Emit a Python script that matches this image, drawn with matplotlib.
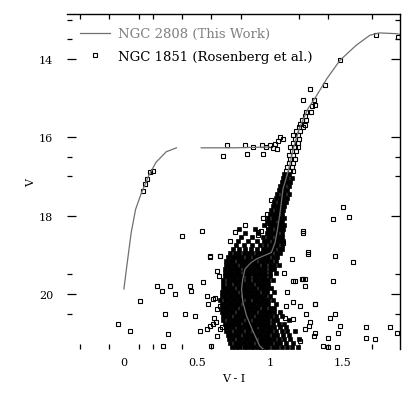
import matplotlib.pyplot as plt
from matplotlib.lines import Line2D

# fiducial lines, NGC 2808 (V-I, V)
fid_rgb_vi = [0.96, 0.93, 0.885, 0.84, 0.815, 0.806, 0.815, 0.83, 0.87, 0.91, 0.96, 1.01, 1.035,
              1.05, 1.07, 1.09, 1.13, 1.16, 1.20, 1.26, 1.32, 1.39, 1.48, 1.59, 1.685, 1.75, 1.87, 1.895]
fid_rgb_v = [21.42, 21.32, 20.95, 20.55, 20.2, 19.87, 19.6, 19.36, 19.2, 19.1, 19.02, 18.94, 18.7,
             18.4, 17.92, 17.32, 16.81, 16.30, 15.79, 15.28, 14.94, 14.51, 14.04, 13.66, 13.40, 13.34, 13.36, 13.38]
fid_bhb_vi = [0.0, 0.02, 0.05, 0.08, 0.12, 0.17, 0.22, 0.29, 0.36]
fid_bhb_v = [19.87, 19.28, 18.43, 17.84, 17.42, 16.98, 16.64, 16.37, 16.27]
fid_rhb_vi = [0.53, 0.75, 1.0]
fid_rhb_v = [16.27, 16.27, 16.25]

# NGC 1851 stars, crowded part given row by row (V of the row, V-I of the stars)
rows_v = [21.35, 21.25, 21.15, 21.05, 20.95, 20.85, 20.75, 20.65, 20.55, 20.45, 20.35, 20.25,
          20.15, 20.05, 19.95, 19.85, 19.75, 19.65, 19.55, 19.45, 19.35, 19.25, 19.15, 19.05,
          18.95, 18.85, 18.75, 18.65, 18.55, 18.45, 18.35, 18.25, 18.15, 18.05, 17.95, 17.85,
          17.75, 17.65, 17.55, 17.45, 17.35, 17.25, 17.15, 17.05, 16.95, 16.85, 16.75, 16.65,
          16.55, 16.45, 16.35, 16.25, 16.15, 16.05, 15.95, 15.85, 15.75, 15.65, 15.55, 15.45,
          15.35, 15.2, 15.05]
rows_vi = [
    [0.74, 0.77, 0.79, 0.82, 0.84, 0.87, 0.89, 0.92, 0.94, 0.97, 0.99, 1.02, 1.05, 1.08, 1.12, 1.15, 1.19],
    [0.73, 0.76, 0.78, 0.81, 0.83, 0.86, 0.88, 0.91, 0.93, 0.96, 0.98, 1.01, 1.04, 1.07, 1.11, 1.16],
    [0.72, 0.75, 0.78, 0.80, 0.83, 0.85, 0.88, 0.90, 0.93, 0.95, 0.98, 1.00, 1.03, 1.06, 1.10, 1.14, 1.20],
    [0.71, 0.74, 0.77, 0.79, 0.82, 0.84, 0.87, 0.89, 0.92, 0.94, 0.97, 0.99, 1.02, 1.05, 1.09, 1.13],
    [0.70, 0.73, 0.76, 0.79, 0.81, 0.84, 0.86, 0.89, 0.91, 0.94, 0.96, 0.99, 1.01, 1.04, 1.08, 1.12, 1.17],
    [0.70, 0.72, 0.75, 0.78, 0.80, 0.83, 0.85, 0.88, 0.90, 0.93, 0.95, 0.98, 1.00, 1.03, 1.07, 1.11],
    [0.69, 0.72, 0.74, 0.77, 0.79, 0.82, 0.84, 0.87, 0.89, 0.92, 0.94, 0.97, 0.99, 1.02, 1.06, 1.10],
    [0.68, 0.71, 0.74, 0.76, 0.79, 0.81, 0.84, 0.86, 0.89, 0.91, 0.94, 0.96, 0.99, 1.02, 1.05, 1.13],
    [0.68, 0.70, 0.73, 0.76, 0.78, 0.81, 0.83, 0.86, 0.88, 0.91, 0.93, 0.96, 0.98, 1.01, 1.04, 1.08],
    [0.67, 0.70, 0.73, 0.75, 0.78, 0.80, 0.83, 0.85, 0.88, 0.90, 0.93, 0.95, 0.98, 1.00, 1.03, 1.07],
    [0.67, 0.70, 0.72, 0.75, 0.77, 0.80, 0.82, 0.85, 0.87, 0.90, 0.92, 0.95, 0.97, 1.00, 1.03],
    [0.67, 0.69, 0.72, 0.74, 0.77, 0.79, 0.82, 0.84, 0.87, 0.89, 0.92, 0.94, 0.97, 0.99, 1.04],
    [0.66, 0.69, 0.71, 0.74, 0.76, 0.79, 0.81, 0.84, 0.86, 0.89, 0.91, 0.94, 0.96, 0.99, 1.02],
    [0.67, 0.69, 0.72, 0.74, 0.77, 0.79, 0.82, 0.84, 0.87, 0.89, 0.92, 0.94, 0.97, 1.00],
    [0.67, 0.70, 0.72, 0.75, 0.77, 0.80, 0.82, 0.85, 0.87, 0.90, 0.92, 0.95, 0.98, 1.03],
    [0.68, 0.70, 0.73, 0.75, 0.78, 0.80, 0.83, 0.85, 0.88, 0.90, 0.93, 0.95, 0.98, 1.01],
    [0.68, 0.71, 0.73, 0.76, 0.78, 0.81, 0.83, 0.86, 0.88, 0.91, 0.93, 0.96, 0.99],
    [0.68, 0.71, 0.74, 0.76, 0.79, 0.81, 0.84, 0.86, 0.89, 0.91, 0.94, 0.96, 0.99, 1.02],
    [0.69, 0.71, 0.74, 0.76, 0.79, 0.81, 0.84, 0.86, 0.89, 0.91, 0.94, 0.97, 1.00],
    [0.69, 0.72, 0.74, 0.77, 0.79, 0.82, 0.84, 0.87, 0.89, 0.92, 0.94, 0.97, 1.00, 1.04],
    [0.69, 0.72, 0.74, 0.77, 0.79, 0.82, 0.84, 0.87, 0.89, 0.92, 0.94, 0.97, 1.00, 1.03],
    [0.70, 0.72, 0.75, 0.77, 0.80, 0.82, 0.85, 0.87, 0.90, 0.92, 0.95, 0.97, 1.00, 1.03, 1.06],
    [0.70, 0.73, 0.75, 0.78, 0.80, 0.83, 0.85, 0.88, 0.90, 0.93, 0.95, 0.98, 1.01, 1.04],
    [0.71, 0.74, 0.76, 0.79, 0.81, 0.84, 0.86, 0.89, 0.91, 0.94, 0.96, 0.99, 1.02, 1.05],
    [0.73, 0.76, 0.79, 0.82, 0.85, 0.88, 0.91, 0.93, 0.96, 0.98, 1.01, 1.04, 1.07],
    [0.75, 0.79, 0.83, 0.87, 0.91, 0.95, 0.98, 1.01, 1.03, 1.06, 1.08],
    [0.77, 0.82, 0.88, 0.93, 0.97, 1.00, 1.03, 1.05, 1.08],
    [0.78, 0.85, 0.91, 0.96, 0.99, 1.02, 1.04, 1.07, 1.09],
    [0.80, 0.88, 0.95, 0.99, 1.01, 1.04, 1.06, 1.08],
    [0.83, 0.92, 0.98, 1.00, 1.03, 1.05, 1.08],
    [0.79, 0.90, 0.99, 1.01, 1.04, 1.06, 1.09],
    [0.96, 1.00, 1.02, 1.05, 1.07, 1.10],
    [0.98, 1.01, 1.03, 1.06, 1.08],
    [0.99, 1.02, 1.04, 1.07, 1.10],
    [1.00, 1.03, 1.05, 1.08],
    [1.01, 1.04, 1.06, 1.09],
    [1.02, 1.05, 1.07, 1.10],
    [1.03, 1.06, 1.08, 1.11],
    [1.04, 1.07, 1.09, 1.12],
    [1.05, 1.08, 1.10, 1.13],
    [1.06, 1.09, 1.12],
    [1.07, 1.10, 1.13],
    [1.08, 1.11, 1.14],
    [1.09, 1.12, 1.15],
    [1.10, 1.13],
    [1.11, 1.14, 1.16],
    [1.12, 1.15],
    [1.13, 1.16],
    [1.14, 1.17],
    [1.13, 1.16],
    [1.15, 1.18],
    [1.14, 1.17, 1.19],
    [1.16, 1.19],
    [1.17, 1.20],
    [1.16, 1.19],
    [1.18, 1.21],
    [1.20, 1.23],
    [1.21],
    [1.22, 1.25],
    [1.24],
    [1.25, 1.28],
    [1.29],
    [1.30],
]

# horizontal branch stars of NGC 1851
hb_vi = [0.20, 0.18, 0.155, 0.144, 0.13, 0.703, 0.68, 0.829, 0.84, 0.943, 0.954, 0.886, 0.977,
         1.0, 1.023, 1.034, 1.057, 1.068, 1.091, 1.046]
hb_v = [16.85, 16.89, 17.06, 17.19, 17.36, 16.21, 16.47, 16.21, 16.43, 16.21, 16.43, 16.26, 16.26,
        16.21, 16.27, 16.17, 16.09, 16.0, 16.04, 16.30]

# scattered stars
field_vi = [1.274, 1.228, 1.308, 1.377, 1.73, 1.879, 1.479, 1.24, 1.502, 1.434, 1.543, 1.228,
            0.395, 0.532, 0.589, 0.658, 1.263, 1.445, 1.571, 1.16, 1.228, 1.239, 1.434, 0.543,
            0.224, 0.258, 0.315, 0.349, 0.452, 0.463, 0.11, 0.416, 0.484, 0.281, 0.578, 1.16,
            1.114, 1.308, 1.251, 1.445, 1.411, 1.479, 1.265, 1.311, 1.466, 1.397, 1.662, 1.822,
            1.868, 1.662, 1.719, 1.365, 1.4, 1.457, -0.039, 0.041, 0.304, 0.521, 0.269, 0.658,
            0.635, 1.103, 1.16, 0.76, 0.83, 0.92, 0.99, 1.23, 1.26, 0.59, 0.66, 0.566, 0.624,
            0.657, 0.70, 1.22, 1.24, 1.17, 1.31, 1.206, 1.275, 1.30, 0.59, 0.634, 0.60, 0.612,
            0.635, 0.612, 0.566, 0.669, 0.955, 0.98, 0.94, 0.92, 1.01, 0.64, 0.65, 1.10, 1.12,
            1.21, 1.24, 0.73, 1.09, 1.15, 0.62]
field_v = [14.77, 15.06, 15.19, 14.66, 13.40, 13.45, 14.04, 15.70, 17.79, 18.09, 18.04, 18.43,
           18.51, 18.38, 19.02, 19.02, 18.98, 19.02, 19.19, 19.66, 19.62, 19.79, 19.66, 19.70,
           19.79, 19.91, 19.79, 20.0, 19.79, 19.91, 20.17, 20.51, 20.55, 20.51, 20.26, 20.21,
           20.30, 20.26, 20.51, 20.51, 20.60, 20.81, 20.81, 20.98, 20.98, 21.11, 20.85, 20.85,
           20.98, 21.11, 21.15, 21.32, 21.36, 21.36, 20.77, 20.94, 21.02, 20.94, 21.32, 20.89,
           21.06, 20.60, 20.64, 18.42, 18.25, 18.42, 18.30, 18.38, 18.93, 19.06, 19.02, 20.04,
           20.09, 20.30, 20.34, 19.62, 19.62, 19.66, 20.25, 20.30, 20.72, 21.06, 20.81, 20.72,
           21.32, 20.13, 20.38, 20.77, 20.89, 20.85, 18.05, 17.95, 18.40, 18.50, 17.60, 19.40,
           19.55, 19.45, 19.95, 21.2, 20.9, 18.65, 18.7, 19.1, 20.6]

# crowded rows are drawn solid, the rest as open squares
solid_limit_v = 16.9

solid_vi, solid_v, open_vi, open_v = [], [], [], []
for v, vis in zip(rows_v, rows_vi):
    for vi in vis:
        if v >= solid_limit_v:
            solid_vi.append(vi)
            solid_v.append(v)
        else:
            open_vi.append(vi)
            open_v.append(v)
open_vi += hb_vi + field_vi
open_v += hb_v + field_v

plt.rcParams['font.family'] = 'DejaVu Serif'

fig = plt.figure(figsize=(4.2, 4.14), dpi=100)
ax = fig.add_axes([0.1595, 0.1546, 0.794, 0.808])

mk = dict(marker='s', markersize=3.0, markerfacecolor='none', markeredgecolor='black',
          markeredgewidth=0.8, linestyle='none')
ax.plot(solid_vi, solid_v, marker='s', markersize=3.3, color='black', markeredgewidth=0.5,
        linestyle='none')
ax.plot(open_vi, open_v, **mk)

gray = '#707070'
ax.plot(fid_rgb_vi, fid_rgb_v, color=gray, lw=0.9)
ax.plot(fid_bhb_vi, fid_bhb_v, color=gray, lw=0.9)
ax.plot(fid_rhb_vi, fid_rhb_v, color=gray, lw=0.9)

ax.set_xlim(-0.39, 1.895)
ax.set_ylim(21.4, 12.87)

ax.spines['left'].set_visible(False)
ax.spines['bottom'].set_visible(False)
for s in ['top', 'right']:
    ax.spines[s].set_linewidth(1.0)

ax.set_xticks([0, 0.5, 1, 1.5])
ax.set_xticklabels(['0', '0.5', '1', '1.5'])
ax.set_xticks([-0.3, -0.1, 0.1, 0.2, 0.4, 0.6, 0.8, 1.0, 1.2, 1.4, 1.7], minor=True)
ax.set_yticks([14, 16, 18, 20])
ax.set_yticks([13, 13.5, 16.5, 17, 19.5, 20.5], minor=True)
ax.tick_params(axis='x', which='major', length=0, pad=6, labelsize=8)
ax.tick_params(axis='x', which='minor', direction='in', length=3.5, width=0.9, top=True, bottom=True)
ax.tick_params(axis='y', which='major', direction='in', length=6.5, width=0.9, left=True, right=True,
               pad=10, labelsize=8)
ax.tick_params(axis='y', which='minor', direction='in', length=3.5, width=0.9, left=True, right=True)

ax.set_xlabel('V - I', fontsize=8, labelpad=4)
ax.set_ylabel('V', fontsize=8, labelpad=2)

handles = [Line2D([], [], color=gray, lw=0.9),
           Line2D([], [], **mk)]
leg = ax.legend(handles, ['NGC 2808 (This Work)', 'NGC 1851 (Rosenberg et al.)'],
                loc='upper left', bbox_to_anchor=(0.015, 0.985), frameon=False, fontsize=9.5,
                handlelength=2.3, handletextpad=0.6, labelspacing=0.7, borderaxespad=0.2)
leg.get_texts()[0].set_color('#808080')

fig.savefig('out.png', dpi=100)
